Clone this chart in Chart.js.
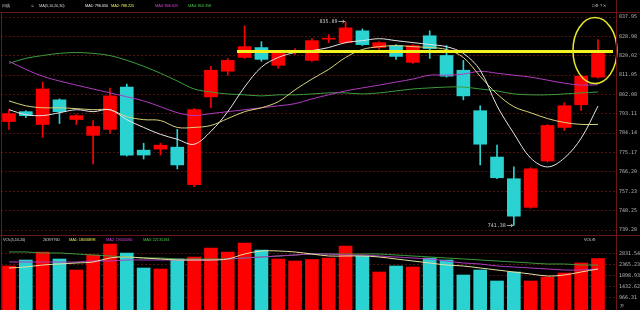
<!DOCTYPE html>
<html lang="zh">
<head>
<meta charset="UTF-8">
<title>日线</title>
<script src="https://cdn.jsdelivr.net/npm/chart.js"></script>
<style>
  body { margin: 0; background: #000; width: 640px; height: 310px; overflow: hidden; position: relative; font-family: "Liberation Sans", sans-serif; }
  #priceBox { position: absolute; left: 0; top: 0; }
  #volBox { position: absolute; left: 0; top: 236px; }
  .t { position: absolute; font-size: 4px; line-height: 5px; letter-spacing: -0.15px; white-space: nowrap; color: #d0d0d0; }
  .ln { position: absolute; background: #6e1616; }
</style>
</head>
<body>
  <canvas id="priceBox" width="640" height="236"></canvas>
  <canvas id="volBox" width="640" height="80"></canvas>

  <div class="ln" style="left:0; top:12px; width:640px; height:1px;"></div>
  <div class="ln" style="left:0; top:235px; width:640px; height:1px;"></div>
  <div class="ln" style="left:1px; top:12px; width:1px; height:298px;"></div>
  <div class="ln" style="left:616px; top:0; width:1px; height:310px;"></div>

  <div class="t" style="left:2px; top:3px;">日线</div>
  <div class="t" style="left:31px; top:3px;">⊙</div>
  <div class="t" style="left:39px; top:3px;">MA(5,10,20,30)</div>
  <div class="t" style="left:85px; top:3px; color:#e6e6e6;">MA1: 796.650</div>
  <div class="t" style="left:111px; top:3px; color:#e8e85a;">MA2: 788.225</div>
  <div class="t" style="left:155px; top:3px; color:#d040d0;">MA3: 806.625</div>
  <div class="t" style="left:188px; top:3px; color:#40c040;">MA4: 803.358</div>
  <div class="t" style="left:592px; top:3px;">□ ⚙ ? ✕</div>

  <div class="t" style="left:3px; top:237px;">VOL(5,10,20)</div>
  <div class="t" style="left:43px; top:237px;">26397760</div>
  <div class="t" style="left:69px; top:237px; color:#e8e85a;">MA1: 18056898</div>
  <div class="t" style="left:106px; top:237px; color:#d040d0;">MA2: 19450080</div>
  <div class="t" style="left:143px; top:237px; color:#40c040;">MA3: 22135184</div>
  <div class="t" style="left:584px; top:237px;">VOL ⚙</div>
  <div class="t" style="left:620px; top:303px;">万</div>

  <script>
    // daily candles (price), 36 sessions
    const openP  = [789.53, 794.10, 788.16, 799.58, 790.44, 783.13, 785.87, 805.52, 776.28, 776.74, 777.65, 760.29,
                    800.95, 812.83, 819.22, 823.79, 815.57, 821.50, 817.85, 827.67, 826.07, 831.55, 823.79, 824.70,
                    816.94, 829.27, 820.13, 813.28, 794.55, 773.08, 763.03, 749.79, 771.26, 786.79, 797.29, 810.08];
    const highP  = [795.01, 794.55, 807.80, 800.03, 792.73, 789.98, 805.06, 806.89, 779.48, 779.48, 785.87, 795.47,
                    815.11, 818.76, 833.84, 826.53, 821.96, 823.33, 827.90, 829.73, 835.89, 832.47, 826.53, 825.16,
                    825.16, 831.55, 824.70, 817.85, 796.84, 778.57, 768.52, 768.06, 788.16, 798.21, 811.00, 827.44];
    const lowP   = [785.87, 791.36, 782.22, 788.61, 788.16, 769.89, 784.05, 773.54, 772.17, 774.00, 767.60, 759.38,
                    795.92, 811.00, 818.76, 817.39, 814.20, 820.59, 817.39, 826.07, 825.61, 824.70, 822.87, 818.31,
                    816.48, 818.76, 810.08, 799.58, 769.43, 763.03, 741.38, 749.33, 770.80, 785.42, 794.55, 809.63];
    const closeP = [793.18, 792.27, 804.60, 794.10, 792.27, 787.24, 801.40, 774.00, 774.00, 778.57, 769.43, 795.01,
                    813.28, 817.85, 824.24, 818.31, 821.50, 822.42, 826.99, 828.13, 832.92, 825.16, 826.07, 819.68,
                    824.70, 823.33, 810.54, 801.40, 779.02, 763.49, 745.68, 767.60, 787.70, 796.84, 810.54, 821.05];

    // moving average lines
    const ma5  = [795.0, 792.7, 792.3, 793.6, 795.0, 794.1, 795.0, 790.4, 786.8, 783.6, 781.3, 779.0,
                  785.0, 794.1, 805.5, 814.7, 819.2, 821.5, 822.4, 823.8, 826.1, 827.0, 827.9, 827.0,
                  826.1, 825.2, 824.2, 821.1, 813.3, 796.8, 784.0, 772.6, 768.5, 772.6, 781.8, 796.7];
    const ma10 = [799.1, 796.8, 795.9, 795.9, 795.5, 795.0, 795.0, 791.8, 790.4, 790.0, 786.8, 786.8,
                  787.7, 790.9, 794.1, 795.9, 798.7, 804.2, 809.2, 813.7, 819.2, 822.9, 824.2, 824.7,
                  824.2, 823.8, 822.9, 819.2, 810.5, 802.3, 796.4, 793.6, 790.9, 789.1, 788.2, 788.2];
    const ma20 = [817.4, 813.7, 810.5, 808.3, 806.4, 804.6, 802.8, 801.0, 799.1, 796.4, 793.6, 792.3,
                  793.2, 794.1, 795.0, 795.9, 796.8, 797.8, 800.0, 801.9, 803.7, 805.1, 806.4, 807.8,
                  809.2, 811.0, 811.0, 811.5, 812.8, 811.9, 811.0, 810.1, 808.7, 807.3, 806.4, 806.6];
    const ma30 = [816.5, 818.8, 820.1, 821.1, 821.5, 821.1, 820.1, 817.9, 815.1, 811.9, 808.3, 804.6,
                  803.2, 802.3, 801.9, 801.4, 801.9, 801.9, 802.3, 802.8, 802.8, 802.3, 802.8, 803.7,
                  804.6, 805.1, 805.5, 805.5, 804.6, 803.7, 802.3, 801.9, 801.9, 802.3, 802.8, 803.2];

    // volume (万)
    const vol = [2322.9, 2577.2, 2916.3, 2619.6, 2153.3, 2789.2, 3255.4, 2873.9, 2238.1, 2195.7, 2619.6, 2704.4,
                 3085.9, 2916.3, 3297.8, 3001.1, 2619.6, 2534.8, 2598.0, 2662.0, 3170.7, 2746.8, 2068.5, 2322.9,
                 2280.5, 2662.0, 2577.2, 1941.4, 2153.3, 1687.1, 2068.5, 1687.1, 1856.6, 2026.1, 2450.0, 2639.8];
    const volMa5  = [2238.1, 2280.5, 2365.2, 2407.6, 2450.0, 2492.4, 2662.0, 2704.4, 2662.0, 2619.6, 2577.2, 2577.2,
                     2577.2, 2619.6, 2831.5, 2958.7, 2958.7, 2916.3, 2831.5, 2746.8, 2746.8, 2746.8, 2704.4, 2619.6,
                     2534.8, 2450.0, 2365.2, 2322.9, 2238.1, 2153.3, 2068.5, 1983.7, 1899.0, 1941.4, 2068.5, 2195.7];
    const volMa10 = [2492.4, 2492.4, 2492.4, 2492.4, 2492.4, 2534.8, 2534.8, 2577.2, 2577.2, 2577.2, 2577.2, 2577.2,
                     2577.2, 2619.6, 2662.0, 2704.4, 2746.8, 2789.2, 2831.5, 2831.5, 2789.2, 2789.2, 2746.8, 2704.4,
                     2662.0, 2619.6, 2534.8, 2450.0, 2407.6, 2322.9, 2280.5, 2238.1, 2195.7, 2153.3, 2153.3, 2195.7];
    const volMa20 = [2916.3, 2916.3, 2873.9, 2873.9, 2831.5, 2789.2, 2746.8, 2704.4, 2662.0, 2662.0, 2619.6, 2619.6,
                     2619.6, 2619.6, 2662.0, 2704.4, 2746.8, 2789.2, 2831.5, 2831.5, 2831.5, 2831.5, 2831.5, 2789.2,
                     2746.8, 2704.4, 2662.0, 2619.6, 2577.2, 2534.8, 2492.4, 2450.0, 2407.6, 2407.6, 2365.2, 2365.2];

    // axis labels on the right
    const priceTicks = [739.28, 748.25, 757.23, 766.20, 775.17, 784.14, 793.11, 802.08, 811.05, 820.02, 828.98, 837.95];
    const volTicks = [966.31, 1432.62, 1898.93, 2365.23, 2831.54];

    // hand-drawn marks: resistance line level, start index, and circled candle
    const lineLevel = 821.96;
    const lineFrom = 13.55;
    const circleAt = [34.82, 822.4];

    const RED = '#ff0000';
    const CYAN = '#2ad2d2';
    const GRID = 'rgba(120,22,22,0.7)';
    const idx = openP.map((_, i) => i);
    const candleColors = idx.map(i => closeP[i] >= openP[i] ? RED : CYAN);
    const xs = { type: 'linear', display: false, offset: false, min: -0.475, max: 36.07 };

    function rightAxis(min, max, ticks) {
      return {
        position: 'right', min: min, max: max,
        afterFit: s => { s.width = 24; },
        afterBuildTicks: s => { s.ticks = ticks.map(v => ({ value: v })); },
        grid: { color: GRID, drawTicks: false },
        border: { display: false, dash: [2, 2] },
        ticks: {
          padding: 3, color: '#b8b8b8',
          font: { family: 'DejaVu Sans Mono', size: 5 },
          callback: v => v.toFixed(2)
        }
      };
    }

    function maLine(vals, color) {
      return {
        type: 'line', data: idx.map(i => ({ x: i, y: vals[i] })),
        borderColor: color, borderWidth: 1, pointRadius: 0, tension: 0.35, order: 1
      };
    }

    const marks = {
      id: 'marks',
      afterDatasetsDraw(chart) {
        const { ctx, chartArea } = chart;
        const x = chart.scales.x, y = chart.scales.y;
        const hi = Math.max(...highP), lo = Math.min(...lowP);
        const tag = (i, v) => {
          const px = x.getPixelForValue(i), py = y.getPixelForValue(v);
          ctx.fillText(v.toFixed(2), px - 8, py);
          ctx.beginPath();
          ctx.moveTo(px - 7, py); ctx.lineTo(px - 1, py);
          ctx.moveTo(px - 3, py - 1.5); ctx.lineTo(px - 1, py); ctx.lineTo(px - 3, py + 1.5);
          ctx.stroke();
        };
        ctx.save();
        ctx.font = '5px "DejaVu Sans Mono"';
        ctx.fillStyle = '#cfcfcf';
        ctx.strokeStyle = '#cfcfcf';
        ctx.lineWidth = 0.8;
        ctx.textAlign = 'right';
        ctx.textBaseline = 'middle';
        tag(highP.indexOf(hi), hi);
        tag(lowP.indexOf(lo), lo);

        ctx.strokeStyle = '#f2f21e';
        ctx.lineWidth = 3;
        const ly = y.getPixelForValue(lineLevel);
        ctx.beginPath();
        ctx.moveTo(x.getPixelForValue(lineFrom), ly);
        ctx.lineTo(chartArea.right - 3, ly);
        ctx.stroke();

        ctx.strokeStyle = '#e6e62a';
        ctx.lineWidth = 1.5;
        ctx.beginPath();
        ctx.ellipse(x.getPixelForValue(circleAt[0]), y.getPixelForValue(circleAt[1]), 22, 33, 0, 0, Math.PI * 2);
        ctx.stroke();
        ctx.restore();
      }
    };

    new Chart(document.getElementById('priceBox'), {
      type: 'bar',
      data: {
        datasets: [
          maLine(ma5, '#e4e4e4'),
          maLine(ma10, '#d8d27a'),
          maLine(ma20, '#b03cc0'),
          maLine(ma30, '#3c9c3c'),
          {
            data: idx.map(i => ({ x: i, y: [openP[i], closeP[i]] })),
            backgroundColor: candleColors, barThickness: 13, minBarLength: 1, order: 2
          },
          {
            data: idx.map(i => ({ x: i, y: [lowP[i], highP[i]] })),
            backgroundColor: candleColors, barThickness: 1, minBarLength: 1, order: 3
          }
        ]
      },
      options: {
        responsive: false, animation: false, devicePixelRatio: 1,
        grouped: false,
        layout: { padding: { top: 17, bottom: 3, left: 1, right: 0 } },
        plugins: { legend: { display: false }, tooltip: { enabled: false } },
        scales: { x: xs, y: rightAxis(priceTicks[0], priceTicks[priceTicks.length - 1], priceTicks) }
      },
      plugins: [marks]
    });

    new Chart(document.getElementById('volBox'), {
      type: 'bar',
      data: {
        datasets: [
          maLine(volMa5, '#e6e0a0'),
          maLine(volMa10, '#b03cc0'),
          maLine(volMa20, '#3c9c3c'),
          {
            data: idx.map(i => ({ x: i, y: vol[i] })),
            backgroundColor: candleColors, barThickness: 13, order: 2
          }
        ]
      },
      options: {
        responsive: false, animation: false, devicePixelRatio: 1,
        grouped: false,
        layout: { padding: { top: 6, bottom: 6, left: 1, right: 0 } },
        plugins: { legend: { display: false }, tooltip: { enabled: false } },
        scales: { x: xs, y: rightAxis(457.6, 3340.2, volTicks) }
      }
    });
  </script>
</body>
</html>
